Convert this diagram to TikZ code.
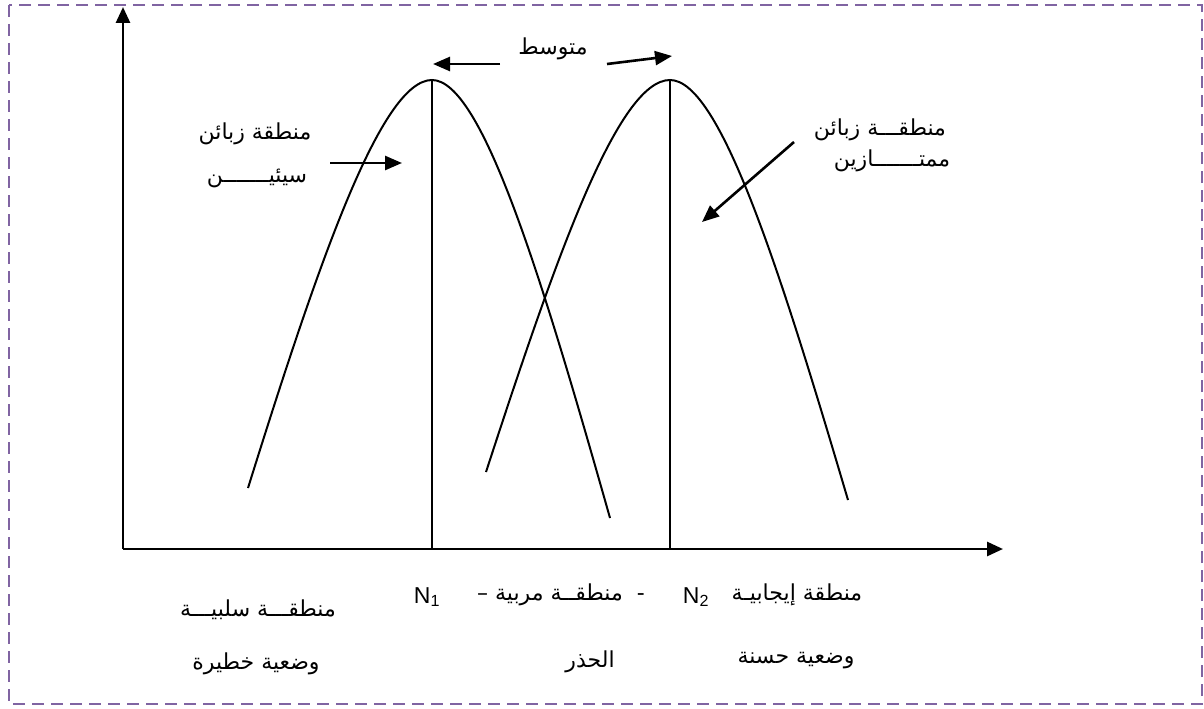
\documentclass[tikz,border=0pt]{standalone}
\usepackage{fontspec}
\setmainfont{Liberation Sans}
\newfontfamily\arabicfont[Script=Arabic]{DejaVu Sans}
\TeXXeTstate=1
\usetikzlibrary{arrows.meta}
\definecolor{ZNpurple}{RGB}{128,100,162}
\tikzset{
  axis/.style={line width=2.8pt,-{Triangle[length=16pt,width=14pt]}},
  bell/.style={line width=2pt},
  peakline/.style={line width=2pt},
  pointer/.style={line width=2.6pt,-{Triangle[length=17pt,width=14pt]}},
  lbl/.style={font=\arabicfont\fontsize{22}{26}\selectfont,inner sep=0pt},
  nlbl/.style={font=\fontsize{23}{26}\selectfont,inner sep=0pt},
  frame/.style={draw=ZNpurple,line width=2.4pt,dash pattern=on 12pt off 7pt}
}

\begin{document}
\begin{tikzpicture}[x=1pt,y=-1pt]
  \useasboundingbox (0,0) rectangle (1204,709);
  \draw[frame] (9,5) rectangle (1202,704);

  % axes
  \coordinate (O) at (123,549);
  \coordinate (ytop) at (123,7);
  \coordinate (xend) at (1003,549);
  \draw[axis] (O) -- (ytop);
  \draw[axis] (O) -- (xend);

  % two bells
  \coordinate (b1s) at (248,488);
  \coordinate (p1) at (432,80);
  \coordinate (b1e) at (610,518);
  \coordinate (f1) at (432,549);
  \coordinate (b2s) at (486,472);
  \coordinate (p2) at (670,80);
  \coordinate (b2e) at (848,500);
  \coordinate (f2) at (670,549);
  \draw[bell] (b1s) .. controls (318,264) and (381,80) .. (p1)
              .. controls (482,80) and (542,278) .. (b1e);
  \draw[bell] (b2s) .. controls (556,257) and (618,80) .. (p2)
              .. controls (720,80) and (780,270) .. (b2e);
  \draw[peakline] (p1) -- (f1);
  \draw[peakline] (p2) -- (f2);

  % pointers
  \coordinate (ml) at (500,64);
  \coordinate (mlt) at (433,64);
  \coordinate (mr) at (607,64);
  \coordinate (mrt) at (672,56);
  \coordinate (bad) at (330,163);
  \coordinate (badt) at (402,163);
  \coordinate (good) at (794,142);
  \coordinate (goodt) at (702,222);
  \draw[pointer] (ml) -- (mlt);
  \draw[pointer] (mr) -- (mrt);
  \draw[pointer] (bad) -- (badt);
  \draw[pointer] (good) -- (goodt);

  % labels
  \node[lbl] (mean) at (553,49) {\beginR متوسط\endR};
  \node[lbl] (badA) at (255,134) {\beginR منطقة زبائن\endR};
  \node[lbl] (badB) at (257,178) {\beginR سيئيـــــــن\endR};
  \node[lbl] (goodA) at (880,130) {\beginR منطقـــة زبائن\endR};
  \node[lbl] (goodB) at (892,161) {\beginR ممتـــــــازين\endR};
  \node[nlbl] (n1) at (427,597) {N\textsubscript{1}};
  \node[nlbl] (n2) at (696,597) {N\textsubscript{2}};
  \node[lbl] (midA) at (561,595) {\beginR -\ \ منطقــة مربية –\endR};
  \node[lbl] (midB) at (590,662) {\beginR الحذر\endR};
  \node[lbl] (negA) at (258,610) {\beginR منطقـــة سلبيـــة\endR};
  \node[lbl] (negB) at (256,664) {\beginR وضعية خطيرة\endR};
  \node[lbl] (posA) at (797,595) {\beginR منطقة إيجابيـة\endR};
  \node[lbl] (posB) at (796,661) {\beginR وضعية حسنة\endR};
\end{tikzpicture}
\end{document}
